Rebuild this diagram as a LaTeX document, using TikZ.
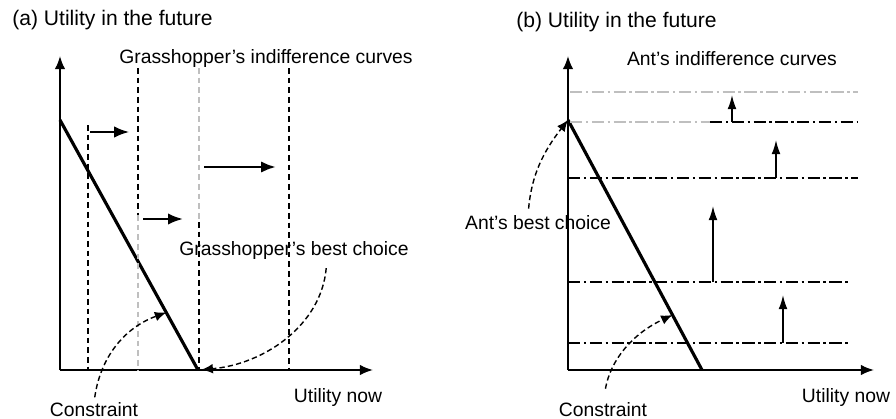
\documentclass[tikz,border=0pt]{standalone}
\usepackage{fontspec}
\setmainfont{Liberation Sans}
\usetikzlibrary{arrows.meta, calc}

\begin{document}
\begin{tikzpicture}[
    x=0.02cm, y=-0.02cm,
    every node/.style={font=\fontsize{11}{13}\selectfont, inner sep=0pt},
    ttl/.style={font=\fontsize{12}{14}\selectfont, anchor=west},
    axis/.style={-{Latex[length=7.5pt, width=6pt]}, line width=1pt},
    budget/.style={line width=1.8pt},
    icurve/.style={line width=0.9pt, dash pattern=on 3.2pt off 2.3pt},
    icurveb/.style={line width=0.9pt, dash pattern=on 7pt off 2pt on 1.4pt off 2pt},
    faint/.style={draw=black!25},
    shiftarrow/.style={-{Latex[length=8.5pt, width=6.5pt]}, line width=0.9pt},
    uparrow/.style={-{Latex[length=8pt, width=5pt]}, line width=0.9pt},
    pointer/.style={-{Latex[length=6.5pt, width=5.5pt]}, line width=0.8pt,
        dash pattern=on 3pt off 1.8pt}
]
\useasboundingbox (0,0) rectangle (896,419);

% === PANEL (a): GRASSHOPPER ===
\node[ttl] (titleA) at (12,20) {(a) Utility in the future};

% ── AXES ──────────────────────────────────────────────────────
\coordinate (oA) at (60,370);
\coordinate (yA) at (60,56);
\coordinate (xA) at (373,370);
\draw[axis] (oA) -- (yA);
\draw[axis] (oA) -- (xA);

% ── CONSTRAINT ────────────────────────────────────────────────
\coordinate (topA) at (60,120);
\coordinate (endA) at (198,370);
\draw[budget] (topA) -- (endA);
\coordinate (hitA) at ($(topA)!0.77!(endA)$);

% ── INDIFFERENCE CURVES ───────────────────────────────────────
\draw[icurve] (88,125) -- (88,370);
\draw[icurve] (138,68) -- (138,215);
\draw[icurve, faint] (138,215) -- (138,370);
\draw[icurve, faint] (199,68) -- (199,222);
\draw[icurve] (199,222) -- (199,370);
\draw[icurve, line width=1.6pt] (289,68) -- (289,370);

% ── SHIFTS ────────────────────────────────────────────────────
\coordinate (s1a) at (90,132);  \coordinate (s1b) at (129,132);
\coordinate (s2a) at (143,219); \coordinate (s2b) at (183,219);
\coordinate (s3a) at (204,167); \coordinate (s3b) at (276,167);
\draw[shiftarrow] (s1a) -- (s1b);
\draw[shiftarrow, line width=1.4pt] (s2a) -- (s2b);
\draw[shiftarrow, line width=1.6pt] (s3a) -- (s3b);

% ── LABELS ────────────────────────────────────────────────────
\node (icA) at (266,59) {Grasshopper's indifference curves};
\node (bestA) at (294,250) {Grasshopper's best choice};
\node (nowA) at (338,397) {Utility now};
\node (consA) at (94,410) {Constraint};

\draw[pointer, shorten <=3pt] (consA.north) to[out=82, in=200] (hitA);
\draw[pointer, shorten <=5pt, shorten >=2pt] ([xshift=0.66cm]bestA.south)
    to[out=-95, in=5] (endA);

% === PANEL (b): ANT ===
\node[ttl] (titleB) at (516,22) {(b) Utility in the future};

% ── AXES ──────────────────────────────────────────────────────
\coordinate (oB) at (568,370);
\coordinate (yB) at (568,56);
\coordinate (xB) at (874,370);
\draw[axis] (oB) -- (yB);
\draw[axis] (oB) -- (xB);

% ── CONSTRAINT ────────────────────────────────────────────────
\coordinate (topB) at (568,120);
\coordinate (endB) at (702,370);
\draw[budget] (topB) -- (endB);
\coordinate (hitB) at ($(topB)!0.78!(endB)$);

% ── INDIFFERENCE CURVES ───────────────────────────────────────
\draw[icurveb, faint] (570,92) -- (858,92);
\draw[icurveb, faint] (570,122) -- (710,122);
\draw[icurveb] (710,122) -- (858,122);
\draw[icurveb, line width=1.4pt] (568,178) -- (858,178);
\draw[icurveb] (568,282) -- (851,282);
\draw[icurveb] (568,343) -- (851,343);

% ── SHIFTS ────────────────────────────────────────────────────
\coordinate (u1a) at (732,122); \coordinate (u1b) at (732,95);
\coordinate (u2a) at (776,178); \coordinate (u2b) at (776,140);
\coordinate (u3a) at (713,282); \coordinate (u3b) at (713,206);
\coordinate (u4a) at (783,343); \coordinate (u4b) at (783,295);
\draw[uparrow] (u1a) -- (u1b);
\draw[uparrow] (u2a) -- (u2b);
\draw[uparrow] (u3a) -- (u3b);
\draw[uparrow] (u4a) -- (u4b);

% ── LABELS ────────────────────────────────────────────────────
\node (icB) at (732,59) {Ant's indifference curves};
\node (bestB) at (538,223) {Ant's best choice};
\node (nowB) at (846,397) {Utility now};
\node (consB) at (603,410) {Constraint};

\draw[pointer, shorten <=4pt] ([xshift=-0.2cm]bestB.north) to[out=85, in=232] (topB);
\draw[pointer, shorten <=8pt] (consB.north) to[out=80, in=205] (hitB);

\end{tikzpicture}
\end{document}
